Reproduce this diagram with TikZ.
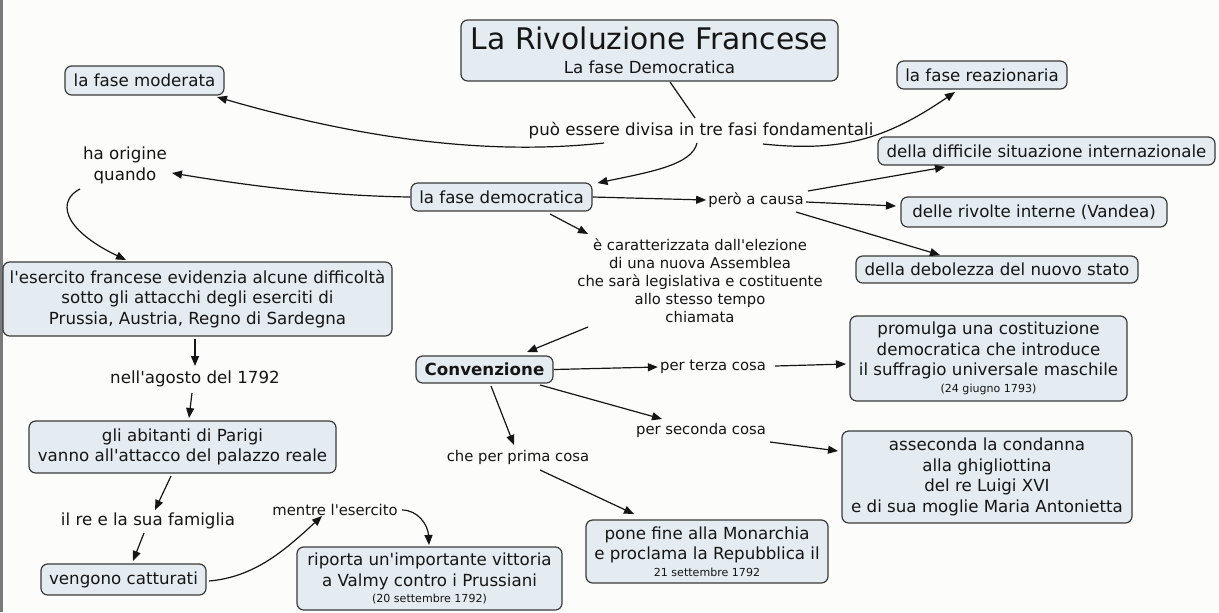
\documentclass[tikz,border=0pt]{standalone}
\usepackage{fontspec}
\setmainfont{DejaVu Sans}[Ligatures=TeXOff]
\usetikzlibrary{arrows.meta}
\definecolor{bg}{HTML}{FCFCFA}
\definecolor{boxfill}{HTML}{E4ECF1}
\definecolor{boxdraw}{HTML}{3A3A3A}
\definecolor{ink}{HTML}{151515}
\definecolor{edge}{HTML}{7A7A7A}
\tikzset{
  x=0.75pt, y=-0.75pt,
  box/.style={draw=boxdraw, fill=boxfill, line width=0.9pt, rounded corners=5pt,
    text=ink, align=center, inner sep=1.5pt,
    font=\fontsize{12.5}{15.4}\selectfont},
  bx/.style n args={2}{minimum width=#1*0.75pt, minimum height=#2*0.75pt},
  lbl/.style={text=ink, align=center, inner sep=1.5pt,
    font=\fontsize{12.5}{15.4}\selectfont},
  slbl/.style={text=ink, align=center, inner sep=1.5pt,
    font=\fontsize{11.1}{13.5}\selectfont},
  conn/.style={draw=ink, line width=0.9pt},
  arr/.style={conn, -{Triangle[length=7.5pt,width=6pt]}},
}
\newcommand{\smalltxt}[1]{{\fontsize{8.3}{10}\selectfont #1}}
\begin{document}
\begin{tikzpicture}
\fill[bg] (0,0) rectangle (1219,612);
\useasboundingbox (0,0) rectangle (1219,612);
\fill[edge] (0,0) rectangle (2.5,612);

% nodes
\node[box, bx={377}{61}] (title) at (649.5,50.5)
  {{\fontsize{22.3}{26}\selectfont La Rivoluzione Francese}\\[2.5pt]La fase Democratica};
\node[box, bx={159}{29}] (mod) at (144.5,80.5) {la fase moderata};
\node[box, bx={170}{28}] (rea) at (982,75) {la fase reazionaria};
\node[lbl] (puo) at (701,131) {può essere divisa in tre fasi fondamentali};
\node[box, bx={337}{28}] (int) at (1046.5,151) {della difficile situazione internazionale};
\node[lbl] (orig) at (125,165.5) {ha origine\\quando};
\node[box, bx={181}{28}] (dem) at (501.5,197) {la fase democratica};
\node[slbl] (causa) at (756,200) {però a causa};
\node[box, bx={266}{30}] (vand) at (1034,212) {delle rivolte interne (Vandea)};
\node[box, bx={282}{27}] (deb) at (997,269.5) {della debolezza del nuovo stato};
\node[slbl] (car) at (700,281) {è caratterizzata dall'elezione\\di una nuova Assemblea\\che sarà legislativa e costituente\\allo stesso tempo\\chiamata};
\node[box, bx={389}{74}] (eser) at (197.5,299) {l'esercito francese evidenzia alcune difficoltà\\sotto gli attacchi degli eserciti di\\Prussia, Austria, Regno di Sardegna};
\node[lbl] (ago) at (195,379) {nell'agosto del 1792};
\node[box, bx={277}{85}] (prom) at (988.5,358.5) {promulga una costituzione\\democratica che introduce\\il suffragio universale maschile\\[-3pt]\smalltxt{(24 giugno 1793)}};
\node[box, bx={137}{27}, font=\fontsize{12.5}{15.4}\selectfont\bfseries] (conv) at (484.5,369.5) {Convenzione};
\node[slbl] (terza) at (713,367) {per terza cosa};
\node[slbl] (seconda) at (701,430) {per seconda cosa};
\node[box, bx={290}{92}] (ass) at (987,477) {asseconda la condanna\\alla ghigliottina\\del re Luigi XVI\\e di sua moglie Maria Antonietta};
\node[box, bx={307}{52}] (abit) at (182.5,447) {gli abitanti di Parigi\\vanno all'attacco del palazzo reale};
\node[slbl] (prima) at (518,457) {che per prima cosa};
\node[lbl] (re) at (148,521) {il re e la sua famiglia};
\node[slbl] (mentre) at (335,510) {mentre l'esercito};
\node[box, bx={242}{63}] (pone) at (707,551.5) {pone fine alla Monarchia\\e proclama la Repubblica il\\[-3pt]\smalltxt{21 settembre 1792}};
\node[box, bx={165}{31}] (catt) at (123.5,579.5) {vengono catturati};
\node[box, bx={265}{63}] (rip) at (429.5,578.5) {riporta un'importante vittoria\\a Valmy contro i Prussiani\\[-3pt]\smalltxt{(20 settembre 1792)}};

% connectors
\draw[conn] ([shift={(20.5,31.5)}]title.center) -- ([shift={(-6,-13)}]puo.center);
\draw[arr] ([shift={(-97,12)}]puo.center) .. controls (520,152) and (400,150) .. ([shift={(72.5,16.5)}]mod.center);
\draw[arr] ([shift={(-4,12)}]puo.center) .. controls (692,165) and (650,172) .. ([shift={(96,-14)}]dem.center);
\draw[arr] ([shift={(62,13)}]puo.center) .. controls (840,152) and (885,140) .. ([shift={(-27,17)}]rea.center);
\draw[arr] (dem.west) .. controls (330,196) and (250,186) .. ([shift={(47,7.5)}]orig.center);
\draw[arr] ([shift={(-45,23.5)}]orig.center) .. controls (58,200) and (60,228) .. ([shift={(-71.5,-39)}]eser.center);
\draw[arr] (dem.east) -- (causa.west);
\draw[arr] ([shift={(52,-9)}]causa.center) -- ([shift={(-101.5,16)}]int.center);
\draw[arr] ([shift={(50,2)}]causa.center) -- ([shift={(-138,-6)}]vand.center);
\draw[arr] ([shift={(40,12)}]causa.center) -- ([shift={(-57,-14.5)}]deb.center);
\draw[arr] ([shift={(48.5,17)}]dem.center) -- ([shift={(-112,-47)}]car.center);
\draw[arr] ([shift={(-112,46)}]car.center) -- ([shift={(42.5,-17.5)}]conv.center);
\draw[arr] (conv.east) -- (terza.west);
\draw[arr] ([shift={(7,-1)}]terza.east) -- ([shift={(-142.5,5.5)}]prom.center);
\draw[arr] ([shift={(55.5,15.5)}]conv.center) -- ([shift={(-39,-11)}]seconda.center);
\draw[arr] ([shift={(69,12)}]seconda.center) -- ([shift={(-149,-26)}]ass.center);
\draw[arr] ([shift={(6.5,16.5)}]conv.center) -- ([shift={(-4,-12)}]prima.center);
\draw[arr] ([shift={(22,13)}]prima.center) -- ([shift={(-73,-37.5)}]pone.center);
\draw[arr] ([shift={(-2.5,2)}]eser.south) -- ([shift={(0,-13)}]ago.center);
\draw[arr] ([shift={(-3,14)}]ago.center) -- ([shift={(6.5,-29)}]abit.center);
\draw[arr] ([shift={(-11.5,29)}]abit.center) -- ([shift={(7,-11)}]re.center);
\draw[arr] ([shift={(-4,12)}]re.center) -- ([shift={(9.5,-18.5)}]catt.center);
\draw[arr] ([shift={(85.5,1.5)}]catt.center) .. controls (255,577) and (285,550) .. ([shift={(-13,6)}]mentre.center);
\draw[arr] ([shift={(67,0)}]mentre.center) .. controls (418,510) and (428,525) .. ([shift={(-0.5,-33.5)}]rip.center);
\end{tikzpicture}
\end{document}
